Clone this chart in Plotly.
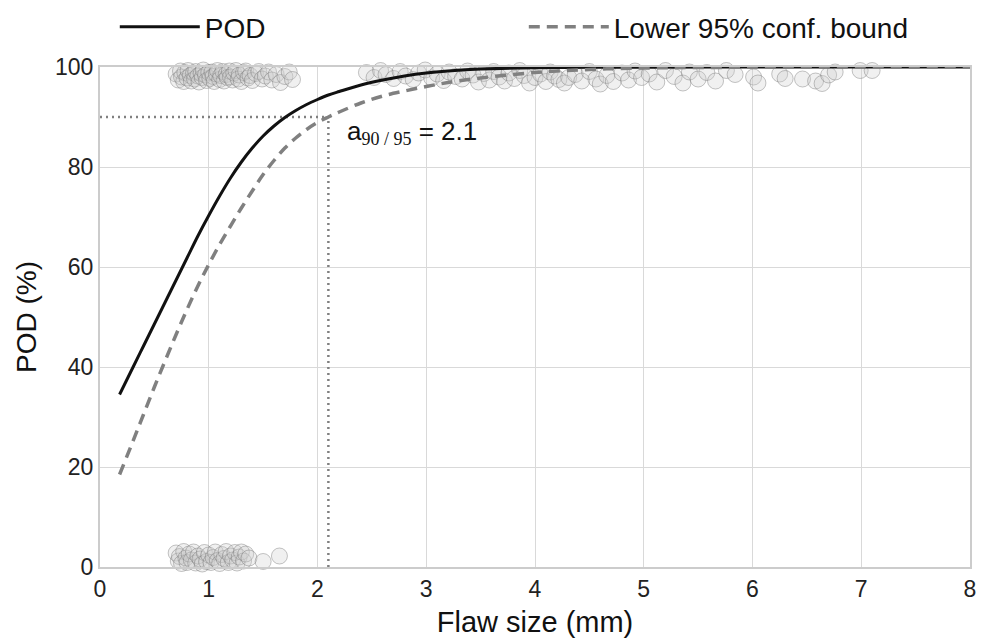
import plotly.graph_objects as go

# fitted POD curve and lower 95% bound
curve_x = [0.18, 0.3, 0.4, 0.5, 0.6, 0.7, 0.8, 0.9, 1.0, 1.1, 1.2, 1.3, 1.4, 1.5, 1.6, 1.7, 1.8, 1.9,
           2.0, 2.1, 2.2, 2.4, 2.6, 2.8, 3.0, 3.2, 3.5, 4.0, 4.5, 5.0, 6.0, 7.0, 8.0]
pod = [34.5, 39.8, 44.2, 48.6, 53.0, 57.4, 61.8, 66.2, 70.3, 74.2, 77.8, 81.0, 83.8, 86.2, 88.2, 89.9, 91.3, 92.5,
       93.5, 94.4, 95.1, 96.4, 97.4, 98.2, 98.8, 99.2, 99.6, 99.85, 99.93, 99.97, 100, 100, 100]
lower = [18.5, 25.0, 30.5, 36.0, 41.3, 46.5, 51.5, 56.2, 60.5, 64.5, 68.2, 71.8, 75.2, 78.5, 81.3, 83.8, 85.8, 87.5,
         88.9, 90.0, 91.0, 92.8, 94.2, 95.2, 96.1, 96.9, 97.8, 98.9, 99.5, 99.8, 99.95, 100, 100]

# observed hits / misses (jittered)
hit_x1 = [0.70, 0.72, 0.74, 0.75, 0.77, 0.78, 0.80, 0.81, 0.83, 0.84, 0.86, 0.87, 0.88, 0.90, 0.91, 0.93, 0.94,
          0.95, 0.97, 0.98, 1.00, 1.01, 1.03, 1.04, 1.05, 1.07, 1.08, 1.10, 1.11, 1.13, 1.14, 1.16, 1.17, 1.19,
          1.20, 1.22, 1.23, 1.25, 1.27, 1.28, 1.30, 1.32, 1.34, 1.36, 1.38, 1.40, 1.43, 1.46, 1.49, 1.52, 1.55,
          1.58, 1.62, 1.66, 1.70, 1.74, 1.77]
hit_y1 = [98.6, 97.4, 99.2, 98.0, 97.1, 98.9, 97.8, 99.3, 98.3, 97.2, 98.8, 97.6, 99.1, 98.2, 97.0, 98.7, 97.9,
          99.4, 98.4, 97.3, 98.9, 97.7, 99.0, 98.1, 97.1, 98.6, 99.3, 97.5, 98.3, 99.1, 97.2, 98.5, 97.9, 99.2,
          98.0, 97.4, 98.8, 99.3, 97.6, 98.4, 97.1, 98.9, 99.2, 97.8, 98.3, 97.3, 98.7, 99.1, 97.6, 98.2, 99.0,
          97.4, 98.5, 96.9, 98.1, 99.0, 97.5]
hit_x2 = [2.45, 2.52, 2.58, 2.63, 2.70, 2.76, 2.81, 2.88, 2.93, 2.99, 3.05, 3.10, 3.16, 3.21, 3.27, 3.33, 3.38,
          3.43, 3.48, 3.53, 3.58, 3.62, 3.67, 3.72, 3.76, 3.81, 3.86, 3.90, 3.95, 4.00, 4.05, 4.10, 4.14, 4.18,
          4.22, 4.27, 4.31, 4.37, 4.43, 4.50, 4.56, 4.60, 4.66, 4.72, 4.80, 4.86, 4.92, 4.98, 5.05, 5.12, 5.20,
          5.28, 5.36, 5.42, 5.50, 5.58, 5.66, 5.76, 5.84, 6.01, 6.05, 6.25, 6.30, 6.46, 6.58, 6.64, 6.70, 6.76,
          6.99, 7.10]
hit_y2 = [98.9, 97.9, 99.3, 98.5, 97.7, 99.1, 98.2, 97.5, 98.8, 99.4, 97.8, 98.6, 97.3, 99.0, 98.1, 97.6, 99.2,
          98.4, 97.0, 98.7, 97.4, 99.1, 98.0, 97.2, 98.8, 97.7, 99.3, 98.3, 96.8, 97.9, 98.6, 97.1, 99.0, 98.2,
          97.5, 96.8, 97.9, 98.5, 97.2, 99.1, 97.6, 96.6, 98.3, 97.1, 98.8, 97.4, 99.2, 97.9, 98.6, 97.0, 99.3,
          98.1, 96.8, 99.0, 97.6, 98.9, 97.2, 99.3, 98.5, 98.0, 96.8, 98.6, 97.7, 97.6, 97.2, 96.7, 98.4, 99.0,
          99.3, 99.3]
miss_x = [0.70, 0.72, 0.73, 0.75, 0.77, 0.79, 0.80, 0.82, 0.84, 0.86, 0.88, 0.90, 0.92, 0.94, 0.96, 0.98, 1.00,
          1.02, 1.04, 1.06, 1.08, 1.10, 1.12, 1.14, 1.16, 1.18, 1.20, 1.22, 1.24, 1.26, 1.28, 1.30, 1.32, 1.34,
          1.37, 1.50, 1.65]
miss_y = [2.8, 1.2, 2.1, 0.7, 3.1, 1.8, 0.9, 2.6, 1.4, 3.0, 0.8, 2.2, 1.6, 0.6, 2.9, 1.1, 2.4, 0.9, 1.9, 3.0,
          1.3, 0.7, 2.5, 1.7, 3.1, 0.9, 2.2, 1.4, 2.9, 0.8, 2.0, 3.0, 1.2, 2.6, 1.8, 1.1, 2.2]

a9095 = 2.1

marker = dict(size=16, color="rgba(205,205,205,0.3)", line=dict(color="rgba(110,110,110,0.4)", width=1))

fig = go.Figure()
for xs, ys in [(hit_x1, hit_y1), (hit_x2, hit_y2), (miss_x, miss_y)]:
    fig.add_trace(go.Scatter(x=xs, y=ys, mode="markers", marker=marker, showlegend=False, cliponaxis=False))

fig.add_trace(go.Scatter(x=[0, a9095], y=[90, 90], mode="lines", showlegend=False,
                         line=dict(color="#808080", width=2.5, dash="2px,4px")))
fig.add_trace(go.Scatter(x=[a9095, a9095], y=[0, 90], mode="lines", showlegend=False,
                         line=dict(color="#808080", width=2.5, dash="2px,4px")))

fig.add_trace(go.Scatter(x=curve_x, y=pod, mode="lines", name="POD", line_shape="spline",
                         line=dict(color="#111111", width=3)))
fig.add_trace(go.Scatter(x=curve_x, y=lower, mode="lines", name="Lower 95% conf. bound", line_shape="spline",
                         line=dict(color="#808080", width=3.5, dash="11px,7px")))

fig.add_annotation(x=2.25, y=87, xanchor="left", yanchor="middle", showarrow=False,
                   text="a<sub><span style='font-family:Liberation Serif;font-size:18px'>90 / 95</span></sub> = 2.1",
                   font=dict(size=26, color="#111111"))

axis_style = dict(showgrid=True, gridcolor="#d9d9d9", gridwidth=1, showline=True, linecolor="#cccccc",
                  linewidth=2, mirror=True, zeroline=False, ticks="",
                  tickfont=dict(size=23, color="#222222"))
fig.update_xaxes(range=[0, 8], dtick=1, title=dict(text="Flaw size (mm)", font=dict(size=29), standoff=11),
                 **axis_style)
fig.update_yaxes(range=[0, 100], dtick=20, title=dict(text="POD (%)", font=dict(size=28), standoff=10),
                 **axis_style)

fig.update_layout(
    width=989, height=638,
    margin=dict(l=100, r=19, t=67, b=71, autoexpand=False),
    plot_bgcolor="white", paper_bgcolor="white",
    font=dict(family="Liberation Sans, Arial, sans-serif", color="#111111"),
    legend=dict(orientation="h", x=0.017, y=1.08, xanchor="left", yanchor="middle",
                font=dict(size=28), entrywidth=314, itemwidth=80, bgcolor="rgba(0,0,0,0)"),
)

fig.write_html("out.html", config={"displayModeBar": False},
               post_script="document.body.style.margin='0';")
